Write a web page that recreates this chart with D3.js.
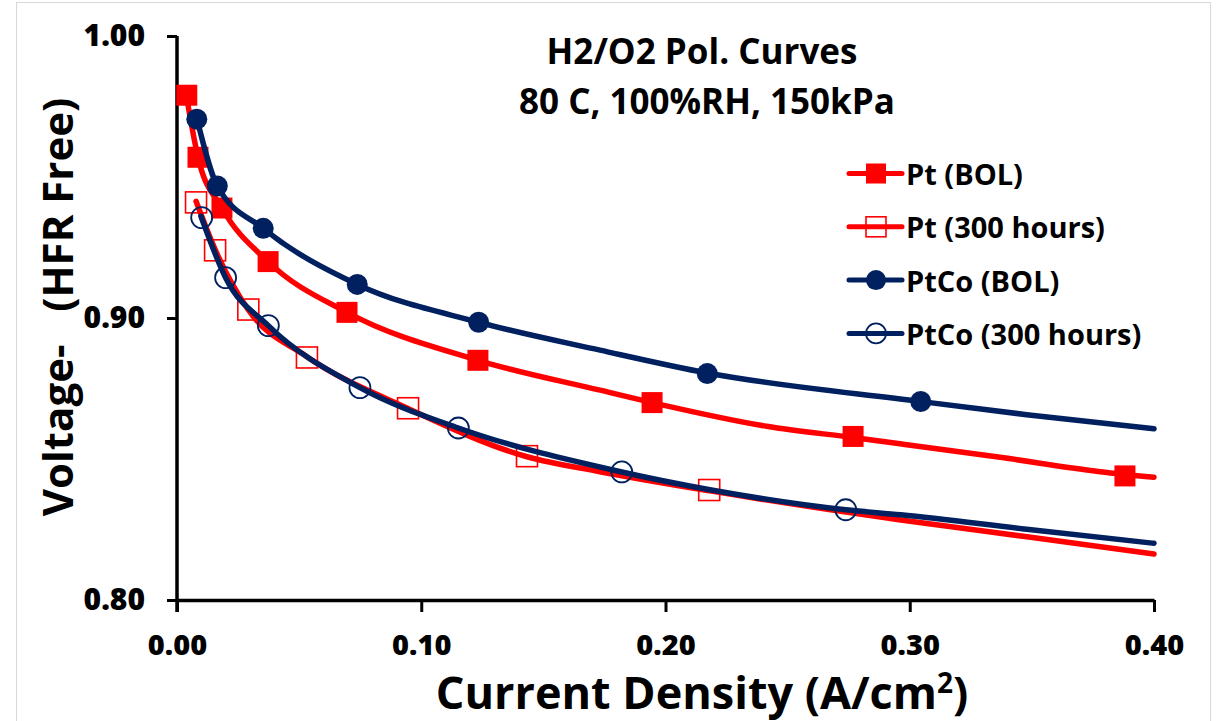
<!DOCTYPE html>
<html>
<head>
    <meta charset="utf-8">
    <style>
        body { margin: 0; background: #fff; }
        text { font-family: "Open Sans", "Noto Sans", sans-serif; font-weight: bold; fill: #000; }
    </style>
</head>
<body>
    <script src="https://cdn.jsdelivr.net/npm/d3@7/dist/d3.min.js"></script>
    <script>
        // tick values
        var xTicks = [0, 0.1, 0.2, 0.3, 0.4];
        var yTicks = [0.8, 0.9, 1.0];

        var seriesNames = ["Pt (BOL)", "Pt (300 hours)", "PtCo (BOL)", "PtCo (300 hours)"];

        // measured points (markers)
        var ptBolX = [0.004, 0.0086, 0.0184, 0.0373, 0.0696, 0.1232, 0.1945, 0.2768, 0.3881];
        var ptBolY = [0.979, 0.957, 0.939, 0.920, 0.902, 0.885, 0.870, 0.858, 0.844];
        var pt300X = [0.0078, 0.0156, 0.0292, 0.0532, 0.0946, 0.1433, 0.2179];
        var pt300Y = [0.941, 0.924, 0.903, 0.886, 0.868, 0.851, 0.839];
        var ptcoBolX = [0.0081, 0.0165, 0.0353, 0.0738, 0.1235, 0.2171, 0.3045];
        var ptcoBolY = [0.9705, 0.9468, 0.9318, 0.9119, 0.8985, 0.8803, 0.8704];
        var ptco300X = [0.0101, 0.0199, 0.0374, 0.0749, 0.1152, 0.1821, 0.2738];
        var ptco300Y = [0.9356, 0.9143, 0.8973, 0.8753, 0.861, 0.8454, 0.832];

        // trend lines
        var ptBolFitX = [0.004, 0.0086, 0.0184, 0.0373, 0.0696, 0.1232, 0.1732, 0.1945, 0.2414, 0.2768, 0.296, 0.337, 0.378, 0.40];
        var ptBolFitY = [0.978, 0.957, 0.939, 0.920, 0.902, 0.885, 0.8744, 0.870, 0.8616, 0.8576, 0.8554, 0.8506, 0.8455, 0.8435];
        var pt300FitX = [0.0078, 0.0156, 0.0291, 0.0532, 0.0946, 0.1433, 0.1732, 0.2182, 0.2963, 0.348, 0.40];
        var pt300FitY = [0.9414, 0.9243, 0.903, 0.8863, 0.8679, 0.8508, 0.8455, 0.8387, 0.8284, 0.8224, 0.8163];
        var ptcoBolFitX = [0.0082, 0.0165, 0.0353, 0.0738, 0.1235, 0.1732, 0.2171, 0.3045, 0.3479, 0.40];
        var ptcoBolFitY = [0.9705, 0.9468, 0.9318, 0.9119, 0.8985, 0.8886, 0.8805, 0.8704, 0.8657, 0.8607];
        var ptco300FitX = [0.0098, 0.0199, 0.0374, 0.0749, 0.1152, 0.1821, 0.2182, 0.2738, 0.2963, 0.3479, 0.40];
        var ptco300FitY = [0.9361, 0.9143, 0.8973, 0.8753, 0.861, 0.8454, 0.8391, 0.832, 0.8302, 0.8251, 0.8201];

        var red = "#ff0000", navy = "#002060";

        var series = [
            { name: seriesNames[0], x: ptBolX, y: ptBolY, fx: ptBolFitX, fy: ptBolFitY, color: red, shape: "square", filled: true },
            { name: seriesNames[1], x: pt300X, y: pt300Y, fx: pt300FitX, fy: pt300FitY, color: red, shape: "square", filled: false },
            { name: seriesNames[2], x: ptcoBolX, y: ptcoBolY, fx: ptcoBolFitX, fy: ptcoBolFitY, color: navy, shape: "circle", filled: true },
            { name: seriesNames[3], x: ptco300X, y: ptco300Y, fx: ptco300FitX, fy: ptco300FitY, color: navy, shape: "circle", filled: false }
        ];

        var W = 1216, H = 721;
        var margin = { top: 36, right: 62, bottom: 121, left: 177 },
            width = W - margin.left - margin.right,
            height = H - margin.top - margin.bottom;

        var x = d3.scaleLinear().domain([0, 0.4]).range([0, width]);
        var y = d3.scaleLinear().domain([0.8, 1.0]).range([height, 0]);

        var root = d3.select("body").append("svg")
            .attr("width", W)
            .attr("height", H);

        // chart area border
        root.append("rect")
            .attr("x", 16.5).attr("y", 2.5)
            .attr("width", 1194).attr("height", 730)
            .attr("fill", "none")
            .attr("stroke", "#d9d9d9");

        var svg = root.append("g")
            .attr("transform", "translate(" + margin.left + "," + margin.top + ")");

        // axes
        var xAxis = svg.append("g")
            .attr("transform", "translate(0," + height + ")")
            .call(d3.axisBottom(x).tickValues(xTicks).tickFormat(d3.format(".2f")).tickSizeInner(12).tickSizeOuter(0).tickPadding(22));
        var yAxis = svg.append("g")
            .call(d3.axisLeft(y).tickValues(yTicks).tickFormat(d3.format(".2f")).tickSizeInner(10).tickSizeOuter(0).tickPadding(22));

        [xAxis, yAxis].forEach(function (a) {
            a.select(".domain").attr("stroke", "#000").attr("stroke-width", 3.5);
            a.selectAll(".tick line").attr("stroke", "#000").attr("stroke-width", 3);
            a.selectAll(".tick text")
                .style("font-family", "'Open Sans', sans-serif")
                .style("font-weight", "800")
                .style("font-size", "29px")
                .attr("fill", "#000");
        });
        yAxis.selectAll(".tick text").style("font-size", "30px");
        // y axis line runs down to the x tick length
        yAxis.select(".domain").attr("d", "M0," + (height + 12) + "V0");

        var markerSize = 21;

        function drawMarker(sel, s) {
            if (s.shape === "square") {
                sel.append("rect")
                    .attr("x", -markerSize / 2).attr("y", -markerSize / 2)
                    .attr("width", markerSize).attr("height", markerSize)
                    .attr("fill", s.filled ? s.color : "none")
                    .attr("stroke", s.color)
                    .attr("stroke-width", s.filled ? 0 : 1.6);
            } else {
                sel.append("circle")
                    .attr("r", markerSize / 2)
                    .attr("fill", s.filled ? s.color : "none")
                    .attr("stroke", s.color)
                    .attr("stroke-width", s.filled ? 0 : 1.8);
            }
        }

        var line = d3.line()
            .x(function (d) { return x(d[0]); })
            .y(function (d) { return y(d[1]); })
            .curve(d3.curveMonotoneX);

        series.forEach(function (s) {
            var fit = s.fx.map(function (v, i) { return [v, s.fy[i]]; });
            svg.append("path")
                .datum(fit)
                .attr("fill", "none")
                .attr("stroke", s.color)
                .attr("stroke-width", 5.5)
                .attr("stroke-linecap", "round")
                .attr("d", line);

            var pts = s.x.map(function (v, i) { return [v, s.y[i]]; });
            svg.selectAll(null)
                .data(pts)
                .enter().append("g")
                .attr("transform", function (d) { return "translate(" + x(d[0]) + "," + y(d[1]) + ")"; })
                .each(function () { drawMarker(d3.select(this), s); });
        });

        // title
        var title = root.append("g");
        title.append("text").attr("x", 702).attr("y", 50).attr("text-anchor", "middle")
            .attr("dominant-baseline", "central").style("font-size", "35px").text("H2/O2 Pol. Curves");
        title.append("text").attr("x", 707).attr("y", 100).attr("text-anchor", "middle")
            .attr("dominant-baseline", "central").style("font-size", "35px").text("80 C, 100%RH, 150kPa");

        // legend
        var legend = root.selectAll(".legend")
            .data(series)
            .enter().append("g")
            .attr("class", "legend")
            .attr("transform", function (d, i) { return "translate(0," + (173.5 + i * 53.3) + ")"; });

        legend.append("line")
            .attr("x1", 849).attr("x2", 902)
            .attr("stroke", function (d) { return d.color; })
            .attr("stroke-width", 5)
            .attr("stroke-linecap", "round");
        legend.each(function (d) {
            var g = d3.select(this).append("g").attr("transform", "translate(876,0)");
            var keep = markerSize;
            markerSize = 20;
            drawMarker(g, d);
            markerSize = keep;
        });
        legend.append("text")
            .attr("x", 906)
            .attr("dominant-baseline", "central")
            .style("font-size", "29px")
            .text(function (d) { return d.name; });

        // axis titles
        var xt = root.append("text")
            .attr("x", 702).attr("y", 709)
            .attr("text-anchor", "middle")
            .style("font-size", "45px");
        xt.append("tspan").text("Current Density (A/cm");
        xt.append("tspan").attr("dy", -16).style("font-size", "28px").text("2");
        xt.append("tspan").attr("dy", 16).text(")");

        root.append("text")
            .attr("transform", "translate(73,307) rotate(-90)")
            .attr("text-anchor", "middle")
            .style("font-size", "42px")
            .style("white-space", "pre")
            .text("Voltage-   (HFR Free)");
    </script>
</body>
</html>
